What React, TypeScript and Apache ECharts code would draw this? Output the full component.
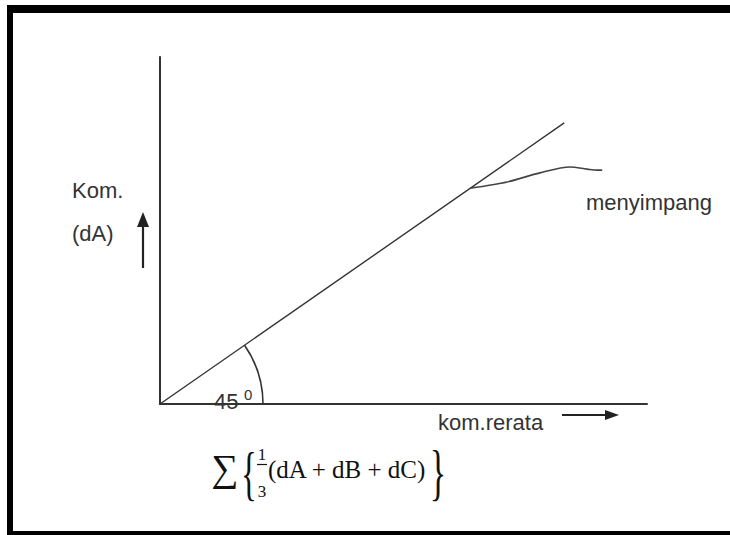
import React, { useEffect, useRef } from "react";
import * as echarts from "echarts";

// Axis ranges (arbitrary units)
const xRange = [0, 100];
const yRange = [0, 100];
// Ideal 45° line: kom.(dA) = kom.rerata
const idealLine: number[][] = [
  [0, 0],
  [83, 81],
];
// Deviating (menyimpang) curve
const deviasi: number[][] = [
  [63.7, 62.2],
  [71.3, 64.0],
  [78.0, 66.6],
  [84.2, 68.3],
  [87.7, 67.7],
  [89.7, 67.4],
  [90.8, 67.4],
];
// Labels
const yLabel1 = "Kom.";
const yLabel2 = "(dA)";
const xLabel = "kom.rerata";
const devLabel = "menyimpang";
const angleLabel = "45";
const formulaBody = "(dA + dB + dC)";

const INK = "#333";
const SANS = "'Liberation Sans', Arial, sans-serif";
const SERIF = "'Liberation Serif', 'Times New Roman', serif";

export default function App() {
  const ref = useRef<HTMLDivElement>(null);
  useEffect(() => {
    document.body.style.margin = "0";
    document.body.style.overflow = "hidden";
    if (!ref.current) return;
    const chart = echarts.init(ref.current, null, { renderer: "svg" });
    chart.setOption({
      animation: false,
      backgroundColor: "#ffffff",
      grid: { left: 160, right: 83, top: 57, bottom: 131, containLabel: false },
      xAxis: {
        type: "value",
        min: xRange[0],
        max: xRange[1],
        axisLine: { show: true, onZero: false, lineStyle: { color: INK, width: 2 } },
        axisTick: { show: false },
        axisLabel: { show: false },
        splitLine: { show: false },
      },
      yAxis: {
        type: "value",
        min: yRange[0],
        max: yRange[1],
        axisLine: { show: true, onZero: false, lineStyle: { color: INK, width: 2 } },
        axisTick: { show: false },
        axisLabel: { show: false },
        splitLine: { show: false },
      },
      series: [
        {
          type: "line",
          data: idealLine,
          symbol: "none",
          lineStyle: { color: INK, width: 1.4 },
        },
        {
          type: "line",
          data: deviasi,
          symbol: "none",
          smooth: 0.3,
          lineStyle: { color: "#444", width: 1.6 },
        },
      ],
    });

    const o = chart.convertToPixel({ gridIndex: 0 }, [0, 0]) as number[];
    const e = chart.convertToPixel({ gridIndex: 0 }, idealLine[1]) as number[];
    const ang = Math.atan2(e[1] - o[1], e[0] - o[0]);

    chart.setOption({
      graphic: [
        // frame
        { type: "rect", shape: { x: 7, y: 5, width: 723, height: 8 }, style: { fill: "#000" } },
        { type: "rect", shape: { x: 7, y: 5, width: 6, height: 530 }, style: { fill: "#000" } },
        { type: "rect", shape: { x: 7, y: 531, width: 723, height: 4 }, style: { fill: "#000" } },
        // angle arc
        {
          type: "arc",
          shape: { cx: o[0], cy: o[1], r: 103, startAngle: ang, endAngle: 0 },
          style: { stroke: INK, fill: "none", lineWidth: 1.6 },
        },
        // y-axis labels
        { type: "text", x: 72, y: 190, style: { text: yLabel1, font: `22px ${SANS}`, fill: INK, verticalAlign: "middle" } },
        { type: "text", x: 72, y: 233, style: { text: yLabel2, font: `22px ${SANS}`, fill: INK, verticalAlign: "middle" } },
        // up arrow
        { type: "line", shape: { x1: 143, y1: 268, x2: 143, y2: 222 }, style: { stroke: "#222", lineWidth: 2.2 } },
        { type: "polygon", shape: { points: [[137, 227], [149, 227], [143, 212]] }, style: { fill: "#222" } },
        // deviation label
        { type: "text", x: 586, y: 202, style: { text: devLabel, font: `22px ${SANS}`, fill: INK, verticalAlign: "middle" } },
        // x-axis label
        { type: "text", x: 438, y: 422, style: { text: xLabel, font: `22px ${SANS}`, fill: INK, verticalAlign: "middle" } },
        // right arrow
        { type: "line", shape: { x1: 562, y1: 415, x2: 608, y2: 415 }, style: { stroke: "#222", lineWidth: 2 } },
        { type: "polygon", shape: { points: [[605, 410], [605, 420], [619, 415]] }, style: { fill: "#222" } },
        // 45 degrees
        { type: "text", x: 214, y: 401, style: { text: angleLabel, font: `22px ${SANS}`, fill: INK, verticalAlign: "middle" } },
        { type: "text", x: 244, y: 394, style: { text: "0", font: `15px ${SANS}`, fill: INK, verticalAlign: "middle" } },
        // formula
        { type: "text", x: 225, y: 468, style: { text: "\u2211", font: `38px ${SERIF}`, fill: "#111", align: "center", verticalAlign: "middle" } },
        { type: "text", x: 249, y: 473, scaleX: 0.55, style: { text: "{", font: `60px ${SERIF}`, fill: "#111", align: "center", verticalAlign: "middle" } },
        { type: "text", x: 262, y: 454, style: { text: "1", font: `17px ${SERIF}`, fill: "#111", align: "center", verticalAlign: "middle" } },
        { type: "line", shape: { x1: 257, y1: 464.5, x2: 267, y2: 464.5 }, style: { stroke: "#111", lineWidth: 1.2 } },
        { type: "text", x: 262, y: 491, style: { text: "3", font: `17px ${SERIF}`, fill: "#111", align: "center", verticalAlign: "middle" } },
        { type: "text", x: 268, y: 469, style: { text: formulaBody, font: `25px ${SERIF}`, fill: "#111", verticalAlign: "middle" } },
        { type: "text", x: 438, y: 472, scaleX: 0.55, style: { text: "}", font: `62px ${SERIF}`, fill: "#111", align: "center", verticalAlign: "middle" } },
      ],
    });
    return () => chart.dispose();
  }, []);
  return (
    <div
      ref={ref}
      style={{ position: "absolute", left: 0, top: 0, width: 730, height: 535 }}
    />
  );
}
